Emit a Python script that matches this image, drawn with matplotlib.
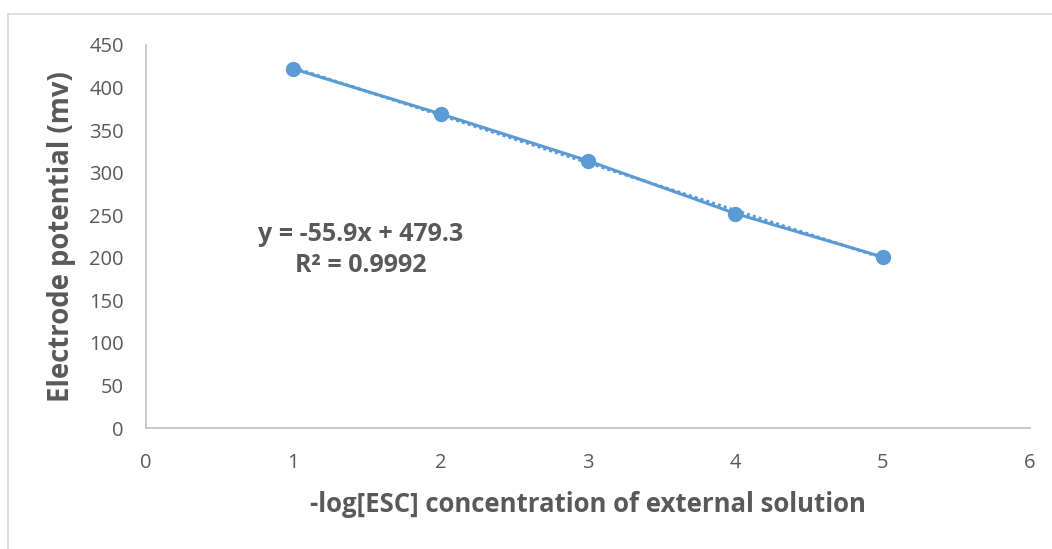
import numpy as np
import matplotlib
matplotlib.use('Agg')
import matplotlib.pyplot as plt
from matplotlib.lines import Line2D

# data
log_conc = [1, 2, 3, 4, 5]
potential = [422, 369, 314, 252, 201]
x_ticks = [0, 1, 2, 3, 4, 5, 6]
y_ticks = [0, 50, 100, 150, 200, 250, 300, 350, 400, 450]

plt.rcParams['font.family'] = ['Open Sans', 'DejaVu Sans']

blue = '#5B9BD5'
grey_text = '#595959'

fig = plt.figure(figsize=(10.52, 5.49), dpi=100)
ax = fig.add_axes([146 / 1052, 1 - 428 / 549, (1030 - 146) / 1052, (428 - 45) / 549])

# linear trendline
slope, intercept = np.polyfit(log_conc, potential, 1)
r2 = np.corrcoef(log_conc, potential)[0, 1] ** 2
xs = np.array([log_conc[0], log_conc[-1]])
ax.plot(xs, slope * xs + intercept, color=blue, lw=2.2, ls=(0, (1, 1)), zorder=2)

ax.plot(log_conc, potential, color=blue, lw=2.2, marker='o', markersize=10, zorder=3,
        clip_on=False)

ax.text(1.46, 209, f'y = {slope:.1f}x + {intercept:.1f}\nR² = {r2:.4f}',
        ha='center', va='center', multialignment='center', fontsize=18,
        fontweight='bold', color=grey_text, linespacing=1.3)

ax.set_xlim(0, 6)
ax.set_ylim(0, 450)
ax.set_xticks(x_ticks)
ax.set_yticks(y_ticks)
ax.tick_params(length=0, labelsize=14.5, colors=grey_text)
ax.tick_params(axis='x', pad=18)
ax.tick_params(axis='y', pad=16)
for s in ['top', 'right']:
    ax.spines[s].set_visible(False)
for s in ['left', 'bottom']:
    ax.spines[s].set_color('#BFBFBF')
    ax.spines[s].set_linewidth(1.2)

ax.set_xlabel('-log[ESC] concentration of external solution', fontsize=18.5,
              fontweight='bold', color=grey_text)
ax.xaxis.set_label_coords(0.5, -0.165)
# y label placed directly in figure pixels (centre at x=62, y=237)
fig.text(62 / 1052, 1 - 237 / 549, 'Electrode potential (mv)', rotation=90,
         ha='center', va='center', fontsize=19.8, fontweight='bold', color=grey_text)

# chart area border
fig.add_artist(Line2D([8 / 1052, 1], [1 - 14 / 549] * 2, color='#D9D9D9', lw=1.2))
fig.add_artist(Line2D([8 / 1052] * 2, [0, 1 - 14 / 549], color='#D9D9D9', lw=1.2))

fig.savefig('out.png', dpi=100)
